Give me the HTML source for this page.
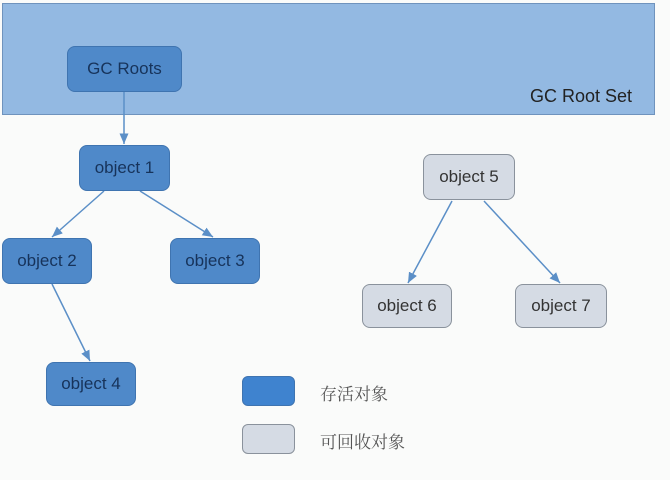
<!DOCTYPE html>
<html><head><meta charset="utf-8"><style>
body{margin:0;width:670px;height:480px;background:#fafbfa;position:relative;overflow:hidden;font-family:"Liberation Sans","Noto Sans CJK SC",sans-serif}
.b{position:absolute;box-sizing:border-box;border-radius:8px;display:flex;align-items:center;justify-content:center;font-size:17px}
.l{background:#4f89c9;border:1.5px solid #3f74b0;color:#17335a}
.g{background:#d5dbe4;border:1.5px solid #8a929c;color:#333}
.t{position:absolute;font-size:18px;color:#333}
</style></head><body>
<div style="position:absolute;left:2px;top:3px;width:653px;height:112px;background:#93b9e2;border:1.5px solid #6f93bd;box-sizing:border-box"></div>
<div class="t" style="left:530px;top:86px;color:#222">GC Root Set</div>
<svg width="670" height="480" style="position:absolute;left:0;top:0">
<defs><marker id="a" markerWidth="8" markerHeight="8" refX="7" refY="4" orient="auto"><path d="M0,1 L7,4 L0,7z" fill="#5b8fc7"/></marker></defs>
<g stroke="#5b8fc7" stroke-width="1.5" marker-end="url(#a)">
<line x1="124" y1="92" x2="124" y2="144"/>
<line x1="104" y1="191" x2="52" y2="237"/>
<line x1="140" y1="191" x2="213" y2="237"/>
<line x1="52" y1="284" x2="90" y2="361"/>
<line x1="452" y1="201" x2="408" y2="283"/>
<line x1="484" y1="201" x2="560" y2="283"/>
</g></svg>
<div class="b l" style="left:67px;top:46px;width:115px;height:46px">GC Roots</div>
<div class="b l" style="left:79px;top:145px;width:91px;height:46px">object 1</div>
<div class="b l" style="left:2px;top:238px;width:90px;height:46px">object 2</div>
<div class="b l" style="left:170px;top:238px;width:90px;height:46px">object 3</div>
<div class="b l" style="left:46px;top:362px;width:90px;height:44px">object 4</div>
<div class="b g" style="left:423px;top:154px;width:92px;height:46px">object 5</div>
<div class="b g" style="left:362px;top:284px;width:90px;height:44px">object 6</div>
<div class="b g" style="left:515px;top:284px;width:92px;height:44px">object 7</div>
<div class="b l" style="left:242px;top:376px;width:53px;height:30px;background:#3f83cf;border-radius:6px"></div>
<div class="b g" style="left:242px;top:424px;width:53px;height:30px;border-radius:6px"></div>
<div class="t" style="left:320px;top:380px;font-size:17px;color:#555;font-family:'Noto Serif CJK SC',serif">存活对象</div>
<div class="t" style="left:320px;top:428px;font-size:17px;color:#555;font-family:'Noto Serif CJK SC',serif">可回收对象</div>
</body></html>
